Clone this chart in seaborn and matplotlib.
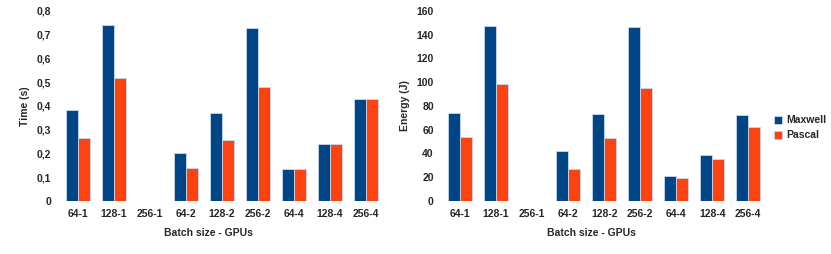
import seaborn as sns
import matplotlib.pyplot as plt
import pandas as pd
from matplotlib.ticker import FuncFormatter

# categories (batch size - GPUs)
configs = ["64-1", "128-1", "256-1", "64-2", "128-2", "256-2", "64-4", "128-4", "256-4"]

# execution time in seconds
time_maxwell = [0.383, 0.739, 0, 0.202, 0.372, 0.728, 0.134, 0.240, 0.431]
time_pascal = [0.266, 0.517, 0, 0.140, 0.257, 0.479, 0.134, 0.240, 0.431]

# energy in joules
energy_maxwell = [74.2, 147.1, 0, 42.3, 73.1, 146.5, 21.0, 38.7, 72.0]
energy_pascal = [54.0, 98.1, 0, 26.9, 53.2, 95.0, 19.3, 35.0, 62.2]

gpus = ["Maxwell", "Pascal"]
colors = ["#004586", "#ff420e"]

df_time = pd.DataFrame({
    "config": configs * 2,
    "gpu": ["Maxwell"] * 9 + ["Pascal"] * 9,
    "value": time_maxwell + time_pascal,
})
df_energy = pd.DataFrame({
    "config": configs * 2,
    "gpu": ["Maxwell"] * 9 + ["Pascal"] * 9,
    "value": energy_maxwell + energy_pascal,
})

sns.set_style("white")
plt.rcParams["font.family"] = ["Liberation Sans", "DejaVu Sans"]
plt.rcParams["font.weight"] = "bold"

fig = plt.figure(figsize=(8.31, 2.54), dpi=100)
ax1 = fig.add_axes([0.072, 0.209, 0.39, 0.748])
ax2 = fig.add_axes([0.532, 0.209, 0.39, 0.748])

sns.barplot(data=df_time, x="config", y="value", hue="gpu", palette=colors, saturation=1,
            width=0.66, edgecolor="#c8d8ec", linewidth=0.6, ax=ax1, legend=False)
sns.barplot(data=df_energy, x="config", y="value", hue="gpu", palette=colors, saturation=1,
            width=0.66, edgecolor="#c8d8ec", linewidth=0.6, ax=ax2)

ax1.set_ylim(0, 0.8)
ax1.set_yticks([i / 10 for i in range(9)])
ax1.yaxis.set_major_formatter(FuncFormatter(lambda v, p: "0" if v == 0 else f"{v:.1f}".replace(".", ",")))
ax1.set_ylabel("Time (s)", fontsize=7.5, fontweight="bold", labelpad=5)

ax2.set_ylim(0, 160)
ax2.set_yticks(range(0, 161, 20))
ax2.set_ylabel("Energy (J)", fontsize=7.5, fontweight="bold", labelpad=5)

for ax in (ax1, ax2):
    ax.set_xlim(-0.5, 8.5)
    ax.set_xlabel("Batch size - GPUs", fontsize=7.5, fontweight="bold")
    ax.xaxis.set_label_coords(0.46, -0.14)
    ax.tick_params(axis="both", labelsize=7.5, length=0, pad=6)
    for lbl in ax.get_xticklabels() + ax.get_yticklabels():
        lbl.set_fontweight("bold")
    sns.despine(ax=ax, left=True, bottom=True)

handles, labels = ax2.get_legend_handles_labels()
ax2.legend(handles, labels, loc="center left", bbox_to_anchor=(0.995, 0.385),
           frameon=False, fontsize=7.5, handlelength=0.8, handleheight=0.8,
           handletextpad=0.4, labelspacing=0.5)

fig.savefig("out.png", dpi=100)
